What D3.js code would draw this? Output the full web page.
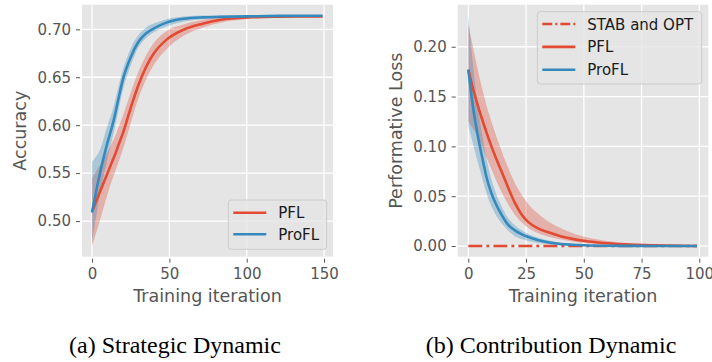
<!DOCTYPE html>
<html>
<head>
<meta charset="utf-8">
<script src="https://cdn.jsdelivr.net/npm/d3@7"></script>
<style>
  html, body { margin: 0; padding: 0; background: #ffffff; }
  svg { display: block; }
</style>
</head>
<body>
<svg id="chart" width="712" height="362"></svg>
<script>
// ---------------- DATA ----------------
// (a) Strategic Dynamic
const accIter      = [0, 5, 10, 13, 15, 17, 20, 25, 30, 35, 40, 48, 59, 72, 83, 100, 120, 149];
const accPFL       = [0.510, 0.530, 0.550, 0.562, 0.570, 0.579, 0.592, 0.618, 0.642, 0.661, 0.675, 0.689, 0.6995, 0.706, 0.710, 0.7125, 0.7132, 0.7135];
const accPFLLo     = [0.474, 0.500, 0.528, 0.543, 0.552, 0.561, 0.575, 0.602, 0.628, 0.648, 0.663, 0.679, 0.693, 0.702, 0.707, 0.7105, 0.712, 0.7125];
const accPFLHi     = [0.545, 0.558, 0.572, 0.582, 0.589, 0.597, 0.610, 0.634, 0.656, 0.673, 0.686, 0.698, 0.705, 0.710, 0.7125, 0.714, 0.7142, 0.7145];
const accProFL     = [0.509, 0.549, 0.582, 0.599, 0.612, 0.627, 0.648, 0.671, 0.687, 0.696, 0.701, 0.707, 0.711, 0.7125, 0.713, 0.7135, 0.714, 0.7142];
const accProFLLo   = [0.478, 0.527, 0.565, 0.585, 0.599, 0.615, 0.637, 0.662, 0.681, 0.691, 0.697, 0.703, 0.708, 0.7105, 0.7118, 0.7125, 0.713, 0.7133];
const accProFLHi   = [0.562, 0.574, 0.600, 0.614, 0.626, 0.640, 0.658, 0.680, 0.694, 0.702, 0.706, 0.7105, 0.7135, 0.7145, 0.7145, 0.7145, 0.715, 0.715];
const accXTicks    = [0, 50, 100, 150];
const accYTicks    = [0.50, 0.55, 0.60, 0.65, 0.70];

// (b) Contribution Dynamic
const lossIter     = [0, 2, 4, 6, 8, 10, 12, 14, 17, 20, 23, 26, 30, 35, 40, 45, 50, 60, 70, 80, 90, 99];
const lossPFL      = [0.177, 0.158, 0.142, 0.127, 0.113, 0.100, 0.088, 0.077, 0.060, 0.044, 0.032, 0.024, 0.018, 0.0135, 0.0098, 0.0072, 0.0053, 0.0028, 0.0014, 0.0007, 0.0003, 0.0001];
const lossPFLLo    = [0.125, 0.118, 0.110, 0.100, 0.088, 0.077, 0.066, 0.056, 0.043, 0.032, 0.024, 0.018, 0.013, 0.009, 0.0065, 0.0045, 0.003, 0.0015, 0.0007, 0.0003, 0.0001, 0.0];
const lossPFLHi    = [0.222, 0.200, 0.178, 0.158, 0.140, 0.125, 0.111, 0.098, 0.080, 0.064, 0.052, 0.042, 0.033, 0.024, 0.018, 0.013, 0.0095, 0.005, 0.0027, 0.0014, 0.0007, 0.0003];
const lossProFL    = [0.177, 0.140, 0.112, 0.089, 0.068, 0.053, 0.042, 0.033, 0.022, 0.016, 0.012, 0.009, 0.006, 0.0035, 0.002, 0.0013, 0.0008, 0.0003, 0.00015, 0.0001, 0.00005, 0.0];
const lossProFLLo  = [0.120, 0.103, 0.085, 0.068, 0.052, 0.040, 0.031, 0.024, 0.016, 0.010, 0.007, 0.005, 0.003, 0.0015, 0.0008, 0.0004, 0.0002, 0.0001, 0.0, 0.0, 0.0, 0.0];
const lossProFLHi  = [0.232, 0.182, 0.142, 0.112, 0.086, 0.067, 0.053, 0.042, 0.029, 0.021, 0.016, 0.012, 0.0085, 0.0055, 0.0033, 0.0022, 0.0014, 0.0006, 0.0003, 0.0002, 0.0001, 0.0001];
const stabIter     = [0, 99];
const stabVal      = [0, 0];
const lossXTicks   = [0, 25, 50, 75, 100];
const lossYTicks   = [0.00, 0.05, 0.10, 0.15, 0.20];

const seriesNames  = ["STAB and OPT", "PFL", "ProFL"];
const captions     = ["(a) Strategic Dynamic", "(b) Contribution Dynamic"];
const yLabels      = ["Accuracy", "Performative Loss"];
const xLabel       = "Training iteration";

// ---------------- STYLE ----------------
const RED = "#E24A33", BLUE = "#348ABD", BG = "#E5E5E5", TICKC = "#555555";
const FONT = "'DejaVu Sans', sans-serif";
const svg = d3.select("#chart");

function makePanel(cfg) {
  const g = svg.append("g");
  const x = d3.scaleLinear().domain(cfg.xDomain).range([cfg.left, cfg.right]);
  const y = d3.scaleLinear().domain(cfg.yDomain).range([cfg.bottom, cfg.top]);

  g.append("rect").attr("x", cfg.left).attr("y", cfg.top)
    .attr("width", cfg.right - cfg.left).attr("height", cfg.bottom - cfg.top)
    .attr("fill", BG);

  const clipId = "clip" + cfg.id;
  svg.append("clipPath").attr("id", clipId).append("rect")
    .attr("x", cfg.left).attr("y", cfg.top)
    .attr("width", cfg.right - cfg.left).attr("height", cfg.bottom - cfg.top);

  // grid
  const grid = g.append("g");
  grid.selectAll("line.gx").data(cfg.xTicks).join("line")
    .attr("x1", d => x(d)).attr("x2", d => x(d))
    .attr("y1", cfg.top).attr("y2", cfg.bottom)
    .attr("stroke", "#ffffff").attr("stroke-width", 1.3);
  grid.selectAll("line.gy").data(cfg.yTicks).join("line")
    .attr("y1", d => y(d)).attr("y2", d => y(d))
    .attr("x1", cfg.left).attr("x2", cfg.right)
    .attr("stroke", "#ffffff").attr("stroke-width", 1.3);

  // axes via d3 axis generators
  const xAxis = d3.axisBottom(x).tickValues(cfg.xTicks).tickSize(4).tickPadding(6)
    .tickFormat(d3.format("d"));
  const gx = g.append("g").attr("transform", `translate(0,${cfg.bottom + 2})`).call(xAxis);
  const yAxis = d3.axisLeft(y).tickValues(cfg.yTicks).tickSize(4).tickPadding(5)
    .tickFormat(d3.format(".2f"));
  const gy = g.append("g").attr("transform", `translate(${cfg.left - 2},0)`).call(yAxis);
  [gx, gy].forEach(a => {
    a.select(".domain").remove();
    a.selectAll(".tick line").attr("stroke", TICKC).attr("stroke-width", 1);
    a.selectAll(".tick text").attr("fill", TICKC).attr("font-family", FONT).attr("font-size", 15);
  });

  // axis labels
  g.append("text").attr("x", (cfg.left + cfg.right) / 2).attr("y", cfg.bottom + 45)
    .attr("text-anchor", "middle").attr("font-family", FONT).attr("font-size", 17.5)
    .attr("fill", TICKC).text(xLabel);
  g.append("text")
    .attr("transform", `translate(${cfg.yLabelX},${(cfg.top + cfg.bottom) / 2}) rotate(-90)`)
    .attr("text-anchor", "middle").attr("font-family", FONT).attr("font-size", 17.5)
    .attr("fill", TICKC).text(cfg.yLabel);

  // caption
  g.append("text").attr("x", cfg.captionX).attr("y", 353)
    .attr("text-anchor", "middle").attr("font-family", "'Liberation Serif', 'Times New Roman', serif")
    .attr("font-size", 24).attr("fill", "#000").text(cfg.caption);

  const plot = g.append("g").attr("clip-path", `url(#${clipId})`);
  const area = d3.area().x(d => x(d.x)).y0(d => y(d.lo)).y1(d => y(d.hi)).curve(d3.curveMonotoneX);
  const line = d3.line().x(d => x(d.x)).y(d => y(d.y)).curve(d3.curveMonotoneX);

  if (cfg.stab) {
    const sd = cfg.stab.x.map((v, i) => ({ x: v, y: cfg.stab.y[i] }));
    plot.append("path").attr("d", line(sd)).attr("fill", "none")
      .attr("stroke", RED).attr("stroke-width", 2.6).attr("stroke-dasharray", "14,4,3,4");
  }
  cfg.series.forEach(s => {
    const d = cfg.iter.map((v, i) => ({ x: v, lo: s.lo[i], hi: s.hi[i] }));
    plot.append("path").attr("d", area(d)).attr("fill", s.color).attr("fill-opacity", 0.33)
      .attr("stroke", "none");
  });
  cfg.series.forEach(s => {
    const d = cfg.iter.map((v, i) => ({ x: v, y: s.mean[i] }));
    plot.append("path").attr("d", line(d)).attr("fill", "none")
      .attr("stroke", s.color).attr("stroke-width", 2.6);
  });

  // legend
  const L = cfg.legend;
  const lg = g.append("g");
  lg.append("rect").attr("x", L.x).attr("y", L.y).attr("width", L.w).attr("height", L.h)
    .attr("rx", 3).attr("fill", "rgba(229,229,229,0.8)").attr("stroke", "#cccccc").attr("stroke-width", 1);
  L.items.forEach((it, i) => {
    const cy = L.y + L.first + i * L.step;
    lg.append("line").attr("x1", L.x + 5).attr("x2", L.x + 38).attr("y1", cy).attr("y2", cy)
      .attr("stroke", it.color).attr("stroke-width", 2.6)
      .attr("stroke-dasharray", it.dash ? "10,3,2,3" : null);
    lg.append("text").attr("x", L.x + 50).attr("y", cy + 5.5)
      .attr("font-family", FONT).attr("font-size", 15).attr("fill", "#1a1a1a").text(it.name);
  });
}

makePanel({
  id: "a", left: 82, right: 333, top: 4.7, bottom: 256.7,
  xDomain: [-6.5, 155.8], yDomain: [0.4628, 0.7257],
  xTicks: accXTicks, yTicks: accYTicks,
  yLabel: yLabels[0], yLabelX: 26, caption: captions[0], captionX: 175,
  iter: accIter,
  series: [
    { mean: accPFL, lo: accPFLLo, hi: accPFLHi, color: RED },
    { mean: accProFL, lo: accProFLLo, hi: accProFLHi, color: BLUE }
  ],
  legend: { x: 228.3, y: 200, w: 98.4, h: 49.3, first: 12.7, step: 21.6,
    items: [ { name: seriesNames[1], color: RED }, { name: seriesNames[2], color: BLUE } ] }
});

makePanel({
  id: "b", left: 457.7, right: 708.3, top: 4.7, bottom: 256.7,
  xDomain: [-4.6, 103.9], yDomain: [-0.0107, 0.2422],
  xTicks: lossXTicks, yTicks: lossYTicks,
  yLabel: yLabels[1], yLabelX: 402, caption: captions[1], captionX: 551,
  iter: lossIter,
  stab: { x: stabIter, y: stabVal },
  series: [
    { mean: lossPFL, lo: lossPFLLo, hi: lossPFLHi, color: RED },
    { mean: lossProFL, lo: lossProFLLo, hi: lossProFLHi, color: BLUE }
  ],
  legend: { x: 537.3, y: 11.7, w: 164.4, h: 72.3, first: 12.3, step: 22.9,
    items: [ { name: seriesNames[0], color: RED, dash: true },
             { name: seriesNames[1], color: RED }, { name: seriesNames[2], color: BLUE } ] }
});
</script>
</body>
</html>
